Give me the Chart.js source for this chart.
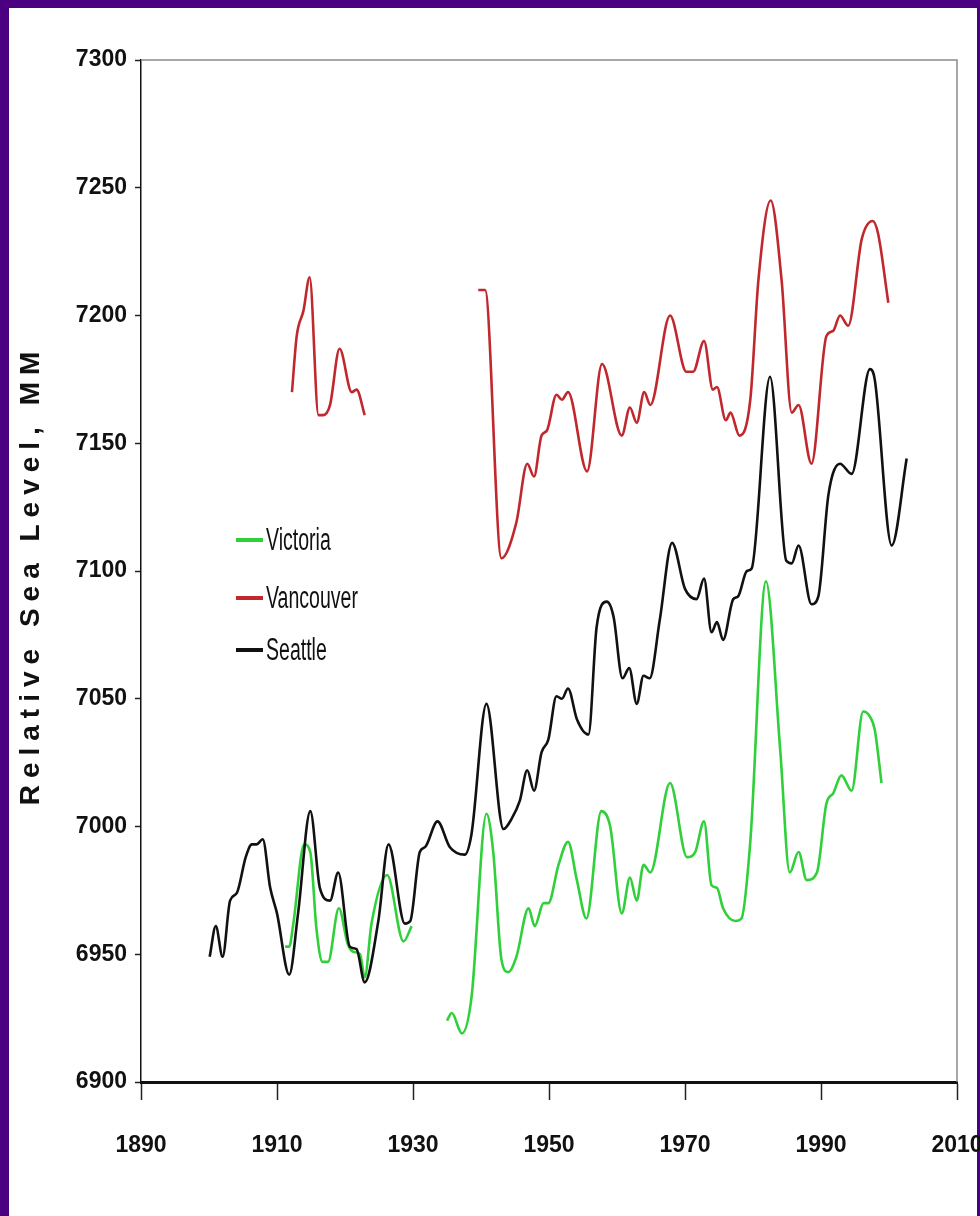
<!DOCTYPE html>
<html>
<head>
    <title>Relative Sea Level - Victoria, Vancouver, Seattle</title>
    <style>
        body { margin: 0; padding: 0; background: #4b0082; }
        #chartContainer { width: 980px; height: 1216px; }
    </style>
    <script src="https://cdn.jsdelivr.net/npm/chart.js"></script>
</head>
<body>

    <div id="chartContainer">
        <canvas id="seaLevelChart" width="980" height="1216"></canvas>
    </div>

    <script>
        // values (year, mm); null = break in the record
        const victoriaYears = [1911.2, 1911.8, 1912.4, 1914.0, 1914.9, 1915.8, 1916.7, 1917.5, 1919.1, 1920.4, 1921.2, 1922.2, 1922.9, 1923.9, 1926.2, 1928.6, 1929.8,
            1932,
            1935.0, 1935.7, 1937.2, 1938.6, 1940.8, 1941.8, 1943.0, 1944.0, 1945.2, 1947.0, 1947.9, 1949.2, 1949.9, 1951.4, 1952.8, 1954.1, 1955.5, 1957.7, 1959.0,
            1960.7, 1961.9, 1962.9, 1963.9, 1964.9, 1967.8, 1970.3, 1971.5, 1972.8, 1973.9, 1974.7, 1975.6, 1977.4, 1978.3, 1979.6, 1981.9, 1984.0, 1985.4,
            1986.7, 1987.9, 1989.4, 1990.8, 1991.8, 1993.0, 1994.5, 1996.2, 1997.2, 1997.9, 1998.9];
        const victoriaLevels = [6953, 6953, 6962, 6993, 6990, 6960, 6947, 6947, 6968, 6954, 6951, 6950, 6941, 6962, 6981, 6955, 6961,
            null,
            6924, 6927, 6919, 6933, 7005, 6990, 6948, 6943, 6949, 6968, 6961, 6970, 6970, 6985, 6994, 6979, 6964, 7006, 7000,
            6966, 6980, 6971, 6985, 6982, 7017, 6988, 6990, 7002, 6977, 6976, 6968, 6963, 6964, 6994, 7096, 7030, 6982,
            6990, 6979, 6982, 7009, 7013, 7020, 7014, 7045, 7043, 7038, 7017];

        const vancouverYears = [1912.2, 1912.9, 1913.9, 1914.8, 1916.1, 1916.8, 1917.8, 1919.2, 1921.0, 1921.7, 1922.9,
            1930,
            1939.6, 1940.6, 1943.0, 1945.2, 1946.8, 1947.8, 1948.9, 1949.7, 1951.1, 1951.9, 1952.8, 1955.6, 1957.8, 1960.7, 1961.9, 1962.9, 1964.0, 1964.9,
            1967.8, 1970.2, 1971.2, 1972.8, 1974.1, 1974.7, 1976.0, 1976.7, 1978.0, 1979.6, 1980.8, 1982.6, 1984.2, 1985.7, 1986.7, 1988.6, 1990.8, 1991.8,
            1992.8, 1994.0, 1996.0, 1997.6, 1998.4, 1999.9];
        const vancouverLevels = [7170, 7192, 7202, 7215, 7161, 7161, 7165, 7187, 7170, 7171, 7161,
            null,
            7210, 7210, 7105, 7119, 7142, 7137, 7153, 7155, 7169, 7167, 7170, 7139, 7181, 7153, 7164, 7158, 7170, 7165,
            7200, 7178, 7178, 7190, 7171, 7172, 7159, 7162, 7153, 7167, 7214, 7245, 7214, 7162, 7165, 7142, 7192, 7194,
            7200, 7196, 7230, 7237, 7232, 7205];

        const seattleYears = [1900.1, 1901.0, 1902.0, 1903.1, 1904.1, 1905.4, 1906.3, 1907.0, 1907.9, 1909.0, 1910.0, 1911.8, 1913.1, 1914.9, 1916.3, 1917.8,
            1919.0, 1920.7, 1921.7, 1922.9, 1924.9, 1926.4, 1928.8, 1929.6, 1931.0, 1931.8, 1933.6, 1935.4, 1937.6, 1938.6, 1940.8, 1943.3, 1944.5, 1945.7,
            1946.8, 1947.8, 1948.9, 1949.9, 1951.1, 1951.9, 1952.8, 1954.1, 1955.8, 1957.0, 1958.5, 1959.5, 1960.8, 1961.8, 1962.9, 1963.9, 1964.8, 1966.3,
            1968.1, 1970.0, 1971.7, 1972.8, 1973.9, 1974.7, 1975.6, 1977.1, 1977.8, 1979.1, 1979.8, 1982.5, 1984.9, 1985.7, 1986.7, 1988.6, 1989.6, 1991.1,
            1992.8, 1994.5, 1997.2, 1997.9, 2000.4, 2002.6];
        const seattleLevels = [6949, 6961, 6949, 6971, 6974, 6988, 6993, 6993, 6995, 6976, 6966, 6942, 6966, 7006, 6976, 6971,
            6982, 6953, 6952, 6939, 6963, 6993, 6962, 6963, 6990, 6992, 7002, 6992, 6989, 6997, 7048, 6999, 7003, 7010,
            7022, 7014, 7029, 7034, 7051, 7050, 7054, 7042, 7036, 7078, 7088, 7082, 7058, 7062, 7048, 7059, 7058, 7081,
            7111, 7093, 7089, 7097, 7076, 7080, 7073, 7089, 7090, 7100, 7101, 7176, 7104, 7103, 7110, 7087, 7090, 7130,
            7142, 7138, 7179, 7175, 7110, 7144];

        const xTicks = [1890, 1910, 1930, 1950, 1970, 1990, 2010];
        const yTicks = [6900, 6950, 7000, 7050, 7100, 7150, 7200, 7250, 7300];

        const pairUp = (xs, ys) => xs.map((x, i) => ({ x: x, y: ys[i] }));

        const tickFont = { family: '"Liberation Sans", Arial, sans-serif', size: 23, weight: 'bold' };

        // purple frame + white page behind the chart
        const pagePlugin = {
            id: 'page',
            beforeDraw(chart) {
                const ctx = chart.ctx;
                ctx.save();
                ctx.fillStyle = '#4b0082';
                ctx.fillRect(0, 0, chart.width, chart.height);
                ctx.fillStyle = '#ffffff';
                ctx.fillRect(9, 8, 968, chart.height - 8);
                ctx.restore();
            },
            beforeDatasetsDraw(chart) {
                const a = chart.chartArea, ctx = chart.ctx;
                ctx.save();
                ctx.strokeStyle = '#8a8a8a';
                ctx.lineWidth = 1.5;
                ctx.beginPath();
                ctx.moveTo(a.left, a.top);
                ctx.lineTo(a.right, a.top);
                ctx.lineTo(a.right, a.bottom);
                ctx.stroke();
                ctx.restore();
            },
            afterDraw(chart) {
                const a = chart.chartArea, ctx = chart.ctx;
                ctx.save();
                // y axis title
                ctx.translate(31, (a.top + a.bottom) / 2 + 4);
                ctx.rotate(-Math.PI / 2);
                ctx.font = 'bold 28px "Liberation Sans", Arial, sans-serif';
                ctx.letterSpacing = '7px';
                ctx.fillStyle = '#111';
                ctx.textAlign = 'center';
                ctx.textBaseline = 'middle';
                ctx.fillText('Relative Sea Level, MM', 0, 0);
                ctx.restore();

                // legend inside the plot
                chart.data.datasets.forEach((ds, i) => {
                    const y = [540, 598, 650][i];
                    ctx.save();
                    ctx.strokeStyle = ds.borderColor;
                    ctx.lineWidth = 4;
                    ctx.beginPath();
                    ctx.moveTo(236, y);
                    ctx.lineTo(263, y);
                    ctx.stroke();
                    ctx.translate(266, y);
                    ctx.scale(0.63, 1);
                    ctx.font = '31px "Liberation Sans", Arial, sans-serif';
                    ctx.textBaseline = 'middle';
                    ctx.fillStyle = '#111';
                    ctx.fillText(ds.label, 0, 1);
                    ctx.restore();
                });
            }
        };

        const ctx = document.getElementById('seaLevelChart').getContext('2d');
        new Chart(ctx, {
            type: 'line',
            data: {
                datasets: [{
                    label: 'Victoria',
                    data: pairUp(victoriaYears, victoriaLevels),
                    borderColor: '#2fd03a',
                    order: 2
                }, {
                    label: 'Vancouver',
                    data: pairUp(vancouverYears, vancouverLevels),
                    borderColor: '#c0282e',
                    order: 1
                }, {
                    label: 'Seattle',
                    data: pairUp(seattleYears, seattleLevels),
                    borderColor: '#111111',
                    order: 0
                }]
            },
            options: {
                responsive: false,
                animation: false,
                spanGaps: false,
                datasets: {
                    line: {
                        borderWidth: 2.6,
                        pointRadius: 0,
                        fill: false,
                        cubicInterpolationMode: 'monotone'
                    }
                },
                layout: { padding: { top: 60, right: 23, left: 0, bottom: 0 } },
                plugins: {
                    legend: { display: false },
                    tooltip: { enabled: false }
                },
                scales: {
                    x: {
                        type: 'linear',
                        min: xTicks[0],
                        max: xTicks[xTicks.length - 1],
                        afterBuildTicks: s => { s.ticks = xTicks.map(v => ({ value: v })); },
                        afterFit: s => { s.height = 134; s.paddingLeft = 0; s.paddingRight = 0; },
                        ticks: {
                            callback: v => String(v),
                            font: tickFont,
                            color: '#111',
                            padding: 32
                        },
                        grid: {
                            drawOnChartArea: false,
                            drawTicks: true,
                            tickLength: 18,
                            tickColor: '#222',
                            tickWidth: 1.5
                        },
                        border: { display: true, color: '#111', width: 3 }
                    },
                    y: {
                        min: yTicks[0],
                        max: yTicks[yTicks.length - 1],
                        afterBuildTicks: s => { s.ticks = yTicks.map(v => ({ value: v })); },
                        afterFit: s => { s.width = 141; s.paddingTop = 0; s.paddingBottom = 0; },
                        ticks: {
                            callback: v => String(v),
                            font: tickFont,
                            color: '#111',
                            padding: 8
                        },
                        grid: {
                            drawOnChartArea: false,
                            drawTicks: true,
                            tickLength: 6,
                            tickColor: '#222',
                            tickWidth: 1.5
                        },
                        border: { display: true, color: '#111', width: 1.5 }
                    }
                }
            },
            plugins: [pagePlugin]
        });
    </script>

</body>
</html>
